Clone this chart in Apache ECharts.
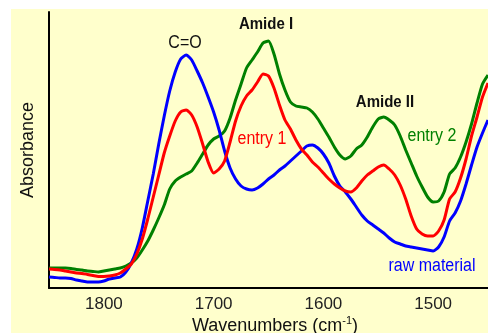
<!DOCTYPE html>
<html>
<head>
<meta charset="utf-8">
<script src="https://cdn.jsdelivr.net/npm/echarts@6/dist/echarts.min.js"></script>
<style>
html,body{margin:0;padding:0;background:#ffffff;}
#bg{position:absolute;left:11px;top:9px;width:477px;height:324px;background:#FFFFCC;}
#chart{position:absolute;left:0;top:0;width:488px;height:333px;}
</style>
</head>
<body>
<div id="bg"></div>
<div id="chart"></div>
<script>
// Wavenumbers (cm-1), high to low
const wavenumbers = [1850,1845,1840,1835,1830,1825,1820,1815,1810,1805,1800,1795,1790,1785,1780,1775,1770,1765,1760,1755,1750,1745,1740,1735,1730,1725,1720,1715,1710,1705,1700,1695,1690,1685,1680,1675,1670,1665,1660,1655,1650,1645,1640,1635,1630,1625,1620,1615,1610,1605,1600,1595,1590,1585,1580,1575,1570,1565,1560,1555,1550,1545,1540,1535,1530,1525,1520,1515,1510,1505,1500,1495,1490,1485,1480,1475,1470,1465,1460,1455,1450];

const rawMaterial = [0.055,0.053,0.050,0.050,0.048,0.040,0.035,0.030,0.030,0.030,0.035,0.045,0.050,0.055,0.080,0.125,0.195,0.300,0.435,0.570,0.720,0.860,0.985,1.080,1.145,1.165,1.140,1.085,1.025,0.955,0.880,0.790,0.685,0.600,0.545,0.510,0.495,0.490,0.500,0.520,0.545,0.565,0.590,0.610,0.635,0.660,0.685,0.710,0.715,0.700,0.670,0.625,0.560,0.510,0.480,0.445,0.405,0.365,0.335,0.315,0.295,0.275,0.250,0.230,0.220,0.210,0.205,0.200,0.195,0.190,0.185,0.205,0.255,0.335,0.375,0.435,0.520,0.615,0.705,0.775,0.840];

const entry1 = [0.095,0.093,0.090,0.085,0.080,0.075,0.073,0.068,0.063,0.058,0.058,0.060,0.065,0.075,0.095,0.120,0.170,0.245,0.345,0.455,0.565,0.675,0.760,0.835,0.880,0.890,0.865,0.805,0.720,0.630,0.575,0.595,0.635,0.730,0.835,0.910,0.960,0.990,1.030,1.070,1.060,1.000,0.915,0.840,0.795,0.740,0.695,0.665,0.630,0.605,0.575,0.545,0.520,0.500,0.485,0.480,0.500,0.535,0.565,0.585,0.605,0.615,0.595,0.565,0.515,0.445,0.360,0.295,0.270,0.260,0.260,0.285,0.340,0.445,0.480,0.550,0.645,0.760,0.855,0.955,1.025];

const entry2 = [0.100,0.100,0.100,0.100,0.098,0.093,0.090,0.085,0.083,0.080,0.085,0.090,0.095,0.100,0.110,0.125,0.150,0.190,0.235,0.290,0.350,0.415,0.495,0.535,0.555,0.570,0.585,0.625,0.670,0.715,0.745,0.760,0.785,0.850,0.940,1.020,1.100,1.140,1.180,1.225,1.235,1.170,1.070,0.990,0.930,0.910,0.905,0.900,0.880,0.845,0.800,0.755,0.705,0.665,0.645,0.660,0.695,0.715,0.755,0.805,0.845,0.855,0.840,0.815,0.760,0.690,0.625,0.560,0.505,0.455,0.430,0.435,0.480,0.570,0.600,0.655,0.730,0.820,0.925,1.020,1.065];

const tickValues = [1800,1700,1600,1500];

const FONT = '"Liberation Sans", Arial, sans-serif';
function pairs(vals){ return wavenumbers.map((w,i)=>[w, vals[i]]); }

const chart = echarts.init(document.getElementById('chart'), null, {renderer:'canvas'});
chart.setOption({
  animation:false,
  backgroundColor:'transparent',
  grid:{left:49,right:0,top:12,bottom:45},
  xAxis:{
    type:'value', min:1450, max:1850, interval:50, inverse:true,
    axisLine:{show:true,lineStyle:{color:'#000',width:2}},
    axisTick:{show:false},
    splitLine:{show:false},
    axisLabel:{
      color:'#222', fontSize:17, fontFamily:FONT, margin:8,
      showMinLabel:false, showMaxLabel:false,
      formatter:function(v){ return tickValues.indexOf(v)>=0 ? String(v) : ''; }
    }
  },
  yAxis:{
    type:'value', min:0, max:1.38,
    axisLine:{show:true,lineStyle:{color:'#000',width:2}},
    axisTick:{show:false}, axisLabel:{show:false}, splitLine:{show:false},
    name:'Absorbance', nameLocation:'middle', nameGap:12,
    nameTextStyle:{color:'#111',fontSize:18,fontFamily:FONT}
  },
  series:[
    {name:'entry 2',type:'line',data:pairs(entry2),showSymbol:false,smooth:0.2,lineStyle:{color:'#008000',width:3},itemStyle:{color:'#008000'}},
    {name:'raw material',type:'line',data:pairs(rawMaterial),showSymbol:false,smooth:0.2,lineStyle:{color:'#0000FF',width:3},itemStyle:{color:'#0000FF'}},
    {name:'entry 1',type:'line',data:pairs(entry1),showSymbol:false,smooth:0.2,lineStyle:{color:'#FF0000',width:3},itemStyle:{color:'#FF0000'}}
  ],
  graphic:[
    {type:'text',x:185,y:43,scaleY:1.1,style:{text:'C=O',fill:'#111',font:'16px '+FONT,textAlign:'center',textVerticalAlign:'middle'}},
    {type:'text',x:266,y:24,scaleY:1.12,style:{text:'Amide I',fill:'#111',font:'bold 15px '+FONT,textAlign:'center',textVerticalAlign:'middle'}},
    {type:'text',x:385,y:102,scaleY:1.12,style:{text:'Amide II',fill:'#111',font:'bold 15px '+FONT,textAlign:'center',textVerticalAlign:'middle'}},
    {type:'text',x:262,y:139,scaleY:1.1,style:{text:'entry 1',fill:'#FF0000',font:'16px '+FONT,textAlign:'center',textVerticalAlign:'middle'}},
    {type:'text',x:432,y:136,scaleY:1.1,style:{text:'entry 2',fill:'#008000',font:'16px '+FONT,textAlign:'center',textVerticalAlign:'middle'}},
    {type:'text',x:432,y:266,scaleY:1.1,style:{text:'raw material',fill:'#0000FF',font:'16px '+FONT,textAlign:'center',textVerticalAlign:'middle'}},
    {type:'text',x:275,y:325,style:{
      text:'{a|Wavenumbers (cm}{s|-1}{a|)}',
      textAlign:'center',textVerticalAlign:'middle',
      rich:{
        a:{fontSize:18,fontFamily:FONT,fill:'#111',color:'#111',lineHeight:20,verticalAlign:'bottom'},
        s:{fontSize:11,fontFamily:FONT,fill:'#111',color:'#111',lineHeight:20,verticalAlign:'top'}
      }
    }}
  ]
});
</script>
</body>
</html>
